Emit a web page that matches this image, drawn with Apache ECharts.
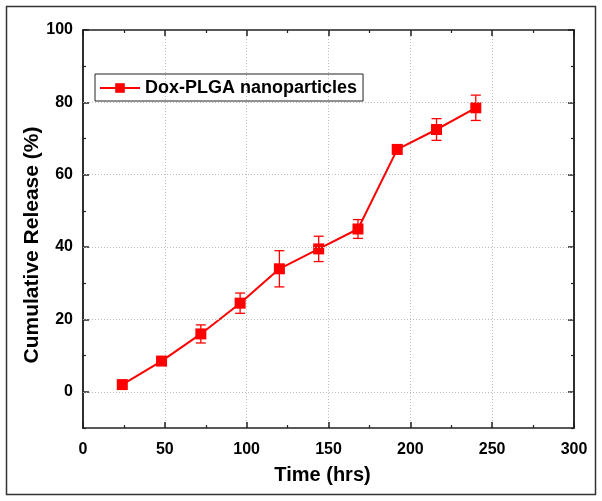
<!DOCTYPE html>
<html><head><meta charset="utf-8">
<script src="https://cdn.jsdelivr.net/npm/echarts@6/dist/echarts.min.js"></script>
<style>html,body{margin:0;padding:0;background:#fff}#c{width:602px;height:501px}</style>
</head><body><div id="c"></div>
<script>
const times = [24, 48, 72, 96, 120, 144, 168, 192, 216, 240];
const release = [2, 8.5, 16, 24.5, 34, 39.5, 45, 67, 72.5, 78.5];
const errors = [0.5, 0.5, 2.5, 2.8, 5, 3.5, 2.6, 1.3, 3, 3.5];
const xTicks = [0, 50, 100, 150, 200, 250, 300];
const yTicks = [0, 20, 40, 60, 80, 100];
const yMinorTicks = [-10, 10, 30, 50, 70, 90];

const chart = echarts.init(document.getElementById('c'));
const red = '#ff0000';
const font = 'Liberation Sans, Arial, sans-serif';
const axLine = {show: true, onZero: false, lineStyle: {color: '#222', width: 1.5}};
const majTick = {show: true, inside: true, length: 6, lineStyle: {color: '#222', width: 1.5}};
const minTick = {show: true, inside: true, length: 3, lineStyle: {color: '#222', width: 1.2}};
const labelStyle = {fontFamily: font, fontWeight: 'bold', fontSize: 16, color: '#000'};
const titleStyle = {fontFamily: font, fontWeight: 'bold', fontSize: 20, color: '#000'};

function yAx(pos, labels, ticks, tickStyle) {
  return {
    type: 'value', min: -10, max: 100, position: pos, offset: 0,
    axisLine: axLine,
    axisLabel: labels ? {...labelStyle, margin: 10, customValues: ticks} : {show: false},
    axisTick: {...tickStyle, customValues: ticks},
    splitLine: {show: false}, minorTick: {show: false}
  };
}
function xAx(pos, labels) {
  return {
    type: 'value', min: 0, max: 300, interval: 50, position: pos,
    axisLine: axLine, axisTick: majTick,
    minorTick: {show: true, splitNumber: 2, length: 3, lineStyle: {color: '#222', width: 1.2}},
    axisLabel: labels ? {...labelStyle, margin: 14} : {show: false},
    splitLine: {show: labels, lineStyle: {color: '#bbb', type: [1, 2], width: 1}}
  };
}

const yLeft = yAx('left', true, yTicks, majTick);
yLeft.name = 'Cumulative Release (%)';
yLeft.nameLocation = 'middle';
yLeft.nameGap = 40;
yLeft.nameMoveOverlap = false;
yLeft.nameTextStyle = {...titleStyle, fontSize: 21, padding: [0, 32, 0, 0]};
const xBottom = xAx('bottom', true);
xBottom.name = 'Time (hrs)';
xBottom.nameLocation = 'middle';
xBottom.nameGap = 37;
xBottom.nameTextStyle = {...titleStyle, padding: [0, 12, 0, 0]};

chart.setOption({
  animation: false,
  graphic: [{type: 'rect', shape: {x: 6.5, y: 6.5, width: 589, height: 488}, style: {fill: 'none', stroke: '#333', lineWidth: 1.5}, silent: true}],
  grid: {left: 83, right: 28, top: 30, bottom: 73},
  legend: {
    show: true, left: 95, top: 74, itemWidth: 40, itemHeight: 12,
    borderColor: '#222', borderWidth: 1, padding: [5, 6, 4, 4], itemGap: 0,
    textStyle: {fontFamily: font, fontWeight: 'bold', fontSize: 18, color: '#000'},
    data: ['Dox-PLGA nanoparticles']
  },
  xAxis: [xBottom, xAx('top', false)],
  yAxis: [yLeft, yAx('right', false, yTicks, majTick), yAx('left', false, yMinorTicks, minTick), yAx('right', false, yMinorTicks, minTick)],
  series: [{
    type: 'line', name: 'Dox-PLGA nanoparticles',
    data: times.map((t, i) => [t, release[i]]),
    symbol: 'rect', symbolSize: 11, color: red,
    lineStyle: {color: red, width: 2}, itemStyle: {color: red}, z: 3
  }, {
    type: 'custom', name: 'err', silent: true, z: 2,
    data: times.map((t, i) => [t, release[i] - errors[i], release[i] + errors[i]]),
    renderItem: function (params, api) {
      const x = api.value(0);
      const lo = api.coord([x, api.value(1)]);
      const hi = api.coord([x, api.value(2)]);
      const w = 5;
      const st = {stroke: red, lineWidth: 1.3};
      return {type: 'group', children: [
        {type: 'line', shape: {x1: lo[0], y1: lo[1], x2: hi[0], y2: hi[1]}, style: st},
        {type: 'line', shape: {x1: lo[0] - w, y1: lo[1], x2: lo[0] + w, y2: lo[1]}, style: st},
        {type: 'line', shape: {x1: hi[0] - w, y1: hi[1], x2: hi[0] + w, y2: hi[1]}, style: st}
      ]};
    }
  }, {
    type: 'line', name: 'hgrid', silent: true, data: [],
    markLine: {silent: true, symbol: 'none', label: {show: false},
      lineStyle: {color: '#bbb', type: [1, 2], width: 1},
      data: yTicks.slice(0, -1).map(v => ({yAxis: v}))}
  }]
});
</script></body></html>
